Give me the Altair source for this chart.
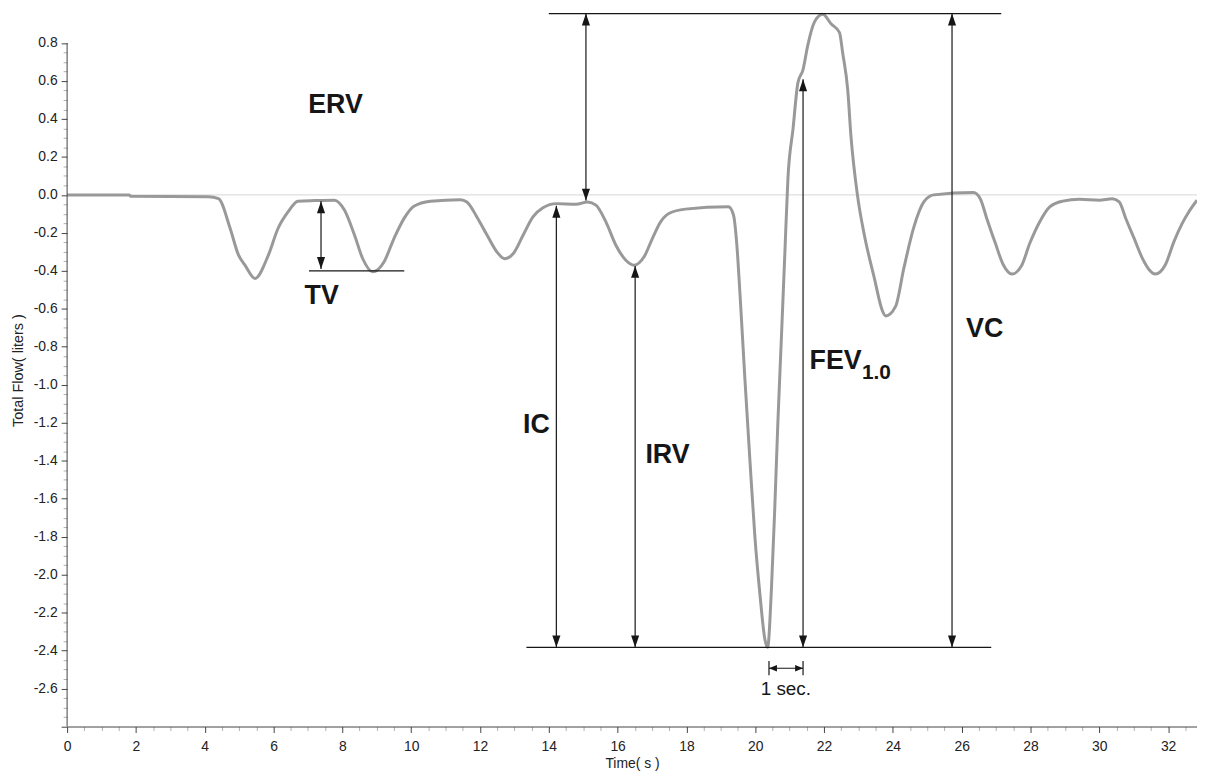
import altair as alt
import pandas as pd

# ---- spirogram trace ----
time_s = [0.0, 1.80, 1.85, 4.11, 4.40, 4.74, 4.98, 5.17, 5.46, 5.85, 6.13, 6.42, 6.71,
          7.20, 7.77, 8.06, 8.35, 8.59, 8.88, 9.21, 9.50, 9.79, 10.08, 10.56, 11.43,
          11.62, 11.91, 12.20, 12.49, 12.72, 12.97, 13.26, 13.54, 13.83, 14.22, 14.79,
          15.13, 15.37, 15.66, 15.95, 16.24, 16.48, 16.77, 17.01, 17.25, 17.49, 17.97,
          19.22, 19.37, 19.46, 19.56, 19.70, 19.85, 19.99, 20.14, 20.28, 20.36, 20.47,
          20.57, 20.66, 20.76, 20.86, 20.95, 21.10, 21.24, 21.39, 21.53, 21.72, 21.96,
          22.21, 22.45, 22.54, 22.69, 22.78, 22.97, 23.17, 23.46, 23.70, 23.79, 24.08,
          24.32, 24.61, 24.90, 25.19, 26.34, 26.54, 26.73, 26.97, 27.21, 27.46, 27.74,
          27.98, 28.27, 28.56, 28.94, 29.42, 30.00, 30.38, 30.58, 30.77, 31.01, 31.25,
          31.45, 31.63, 31.92, 32.17, 32.41, 32.60, 32.84]
flow_l = [0.0, 0.0, -0.007, -0.01, -0.02, -0.177, -0.316, -0.37, -0.44, -0.317, -0.177, -0.09, -0.033,
          -0.03, -0.028, -0.08, -0.21, -0.335, -0.405, -0.353, -0.23, -0.125, -0.06, -0.033, -0.025,
          -0.037, -0.116, -0.21, -0.30, -0.336, -0.309, -0.21, -0.116, -0.068, -0.046, -0.049,
          -0.037, -0.054, -0.142, -0.265, -0.344, -0.37, -0.326, -0.23, -0.142, -0.098, -0.075,
          -0.063, -0.107, -0.25, -0.53, -0.97, -1.41, -1.80, -2.11, -2.34, -2.383, -2.08,
          -1.64, -1.19, -0.755, -0.313, 0.084, 0.35, 0.59, 0.66, 0.79, 0.91, 0.951,
          0.90, 0.855, 0.75, 0.55, 0.315, 0.0, -0.21, -0.437, -0.612, -0.638, -0.587,
          -0.386, -0.17, -0.037, 0.0, 0.012, -0.02, -0.124, -0.25, -0.368, -0.417, -0.373,
          -0.255, -0.141, -0.063, -0.033, -0.023, -0.028, -0.02, -0.037, -0.124, -0.228, -0.333,
          -0.394, -0.417, -0.368, -0.246, -0.15, -0.09, -0.028]

# ---- annotation geometry (data units) ----
hline_x1 = [14.00, 7.03, 13.35]
hline_x2 = [27.15, 9.80, 26.86]
hline_y = [0.955, -0.40, -2.383]

varrow_x = [7.38, 15.08, 14.22, 16.51, 21.39, 25.72]
varrow_top = [-0.034, 0.955, -0.057, -0.374, 0.609, 0.955]
varrow_bottom = [-0.39, -0.03, -2.383, -2.383, -2.383, -2.383]

sec_x1, sec_x2, sec_y = 20.40, 21.39, -2.493
sec_bar_y1, sec_bar_y2 = -2.455, -2.53

label_text = ["TV", "ERV", "IC", "IRV", "VC"]
label_x = [7.40, 7.80, 13.64, 17.45, 26.67]
label_y = [-0.531, 0.475, -1.212, -1.368, -0.704]

fev_text, fev_x, fev_y = "FEV", 21.58, -0.874
sub_text, sub_x, sub_y = "1.0", 23.10, -0.936
sec_text, sec_tx, sec_ty = "1 sec.", 20.89, -2.605

x_domain = [0, 32.84]
y_domain = [-2.8, 0.955]
x_ticks = [i * 0.5 for i in range(0, 66)]
y_ticks = [round(-2.8 + 0.05 * i, 2) for i in range(0, 73)]

FONT = "Liberation Sans"
INK = "#161616"

xs = alt.Scale(domain=x_domain, nice=False, zero=False)
ys = alt.Scale(domain=y_domain, nice=False, zero=False)

curve_df = pd.DataFrame({"t": time_s, "v": flow_l})

maj_x = "abs(datum.value % 2) < 0.01"
x_axis = alt.Axis(
    values=x_ticks, title="Time( s )", domainColor="#444444", domainWidth=1,
    tickColor={"condition": {"test": maj_x, "value": "#444444"}, "value": "#b0b0b0"},
    tickSize={"condition": {"test": maj_x, "value": 6}, "value": 4},
    labelExpr=maj_x + " ? format(datum.value, 'd') : ''",
    labelFont=FONT, labelFontSize=14, labelColor="#222222", labelPadding=7,
    titleFont=FONT, titleFontSize=14, titleFontWeight="normal", titleColor="#222222",
    titlePadding=3, grid=False, labelFlush=False, labelOverlap=False,
)
maj_y = "abs(datum.value / 0.2 - round(datum.value / 0.2)) < 0.01"
y_axis = alt.Axis(
    values=y_ticks, title="Total Flow( liters )", domain=False,
    tickColor={"condition": {"test": maj_y, "value": "#444444"}, "value": "#b0b0b0"},
    tickSize={"condition": {"test": maj_y, "value": 6}, "value": 4},
    labelExpr="(" + maj_y + " && datum.value > -2.75) ? replace(format(datum.value, '.1f'), '\u2212', '-') : ''",
    labelFont=FONT, labelFontSize=14, labelColor="#222222", labelPadding=4,
    titleFont=FONT, titleFontSize=14.5, titleFontWeight="normal", titleColor="#222222",
    titlePadding=8, grid=False, labelOverlap=False,
)


def X(f):
    return alt.X(f, type="quantitative", scale=xs, axis=x_axis)


def Y(f):
    return alt.Y(f, type="quantitative", scale=ys, axis=y_axis)


curve = alt.Chart(curve_df).mark_line(
    color="#999999", strokeWidth=3, interpolate="monotone"
).encode(x=X("t"), y=Y("v"))

zero_df = pd.DataFrame({"v": [0.0]})
zero_line = alt.Chart(zero_df).mark_rule(color="#d6d6d6", strokeWidth=1).encode(y=Y("v"))

yaxis_df = pd.DataFrame({"t": [0.0], "v1": [-2.8], "v2": [0.8]})
yaxis_line = alt.Chart(yaxis_df).mark_rule(color="#444444", strokeWidth=1).encode(
    x=X("t"), y=Y("v1"), y2="v2")

h_df = pd.DataFrame({"x1": hline_x1, "x2": hline_x2, "y": hline_y})
hlines = alt.Chart(h_df).mark_rule(color=INK, strokeWidth=1.2).encode(
    x=X("x1"), x2="x2", y=Y("y"))

v_df = pd.DataFrame({"x": varrow_x, "top": varrow_top, "bottom": varrow_bottom})
vlines = alt.Chart(v_df).mark_rule(color=INK, strokeWidth=1.2).encode(
    x=X("x"), y=Y("top"), y2="bottom")
up_heads = alt.Chart(v_df).mark_point(
    shape="M0,0L-0.34,1L0.34,1Z", filled=True, size=576, color=INK, opacity=1, strokeWidth=0
).encode(x=X("x"), y=Y("top"))
down_heads = alt.Chart(v_df).mark_point(
    shape="M0,0L-0.34,-1L0.34,-1Z", filled=True, size=576, color=INK, opacity=1, strokeWidth=0
).encode(x=X("x"), y=Y("bottom"))

s_df = pd.DataFrame({"x1": [sec_x1], "x2": [sec_x2], "y": [sec_y],
                     "b1": [sec_bar_y1], "b2": [sec_bar_y2]})
sec_line = alt.Chart(s_df).mark_rule(color=INK, strokeWidth=1.2).encode(
    x=X("x1"), x2="x2", y=Y("y"))
sec_bar1 = alt.Chart(s_df).mark_rule(color=INK, strokeWidth=1.2).encode(
    x=X("x1"), y=Y("b1"), y2="b2")
sec_bar2 = alt.Chart(s_df).mark_rule(color=INK, strokeWidth=1.2).encode(
    x=X("x2"), y=Y("b1"), y2="b2")
sec_left = alt.Chart(s_df).mark_point(
    shape="M0,0L1,-0.42L1,0.42Z", filled=True, size=256, color=INK, opacity=1, strokeWidth=0
).encode(x=X("x1"), y=Y("y"))
sec_right = alt.Chart(s_df).mark_point(
    shape="M0,0L-1,-0.42L-1,0.42Z", filled=True, size=256, color=INK, opacity=1, strokeWidth=0
).encode(x=X("x2"), y=Y("y"))

lab_df = pd.DataFrame({"text": label_text, "x": label_x, "y": label_y})
labels = alt.Chart(lab_df).mark_text(
    font=FONT, fontSize=27, fontWeight="bold", color=INK, align="center", baseline="middle"
).encode(x=X("x"), y=Y("y"), text="text:N")

fev_df = pd.DataFrame({"text": [fev_text], "x": [fev_x], "y": [fev_y]})
fev = alt.Chart(fev_df).mark_text(
    font=FONT, fontSize=27, fontWeight="bold", color=INK, align="left", baseline="middle"
).encode(x=X("x"), y=Y("y"), text="text:N")
sub_df = pd.DataFrame({"text": [sub_text], "x": [sub_x], "y": [sub_y]})
sub = alt.Chart(sub_df).mark_text(
    font=FONT, fontSize=21, fontWeight="bold", color=INK, align="left", baseline="middle"
).encode(x=X("x"), y=Y("y"), text="text:N")
sec_df = pd.DataFrame({"text": [sec_text], "x": [sec_tx], "y": [sec_ty]})
sec = alt.Chart(sec_df).mark_text(
    font=FONT, fontSize=19, color=INK, align="center", baseline="middle"
).encode(x=X("x"), y=Y("y"), text="text:N")

chart = alt.layer(
    zero_line, curve, yaxis_line, hlines, vlines, up_heads, down_heads,
    sec_line, sec_bar1, sec_bar2, sec_left, sec_right, labels, fev, sub, sec,
).properties(
    width=1137.6, height=717.8,
    autosize=alt.AutoSizeParams(type="none"),
    padding={"left": 59.5, "top": 3, "right": 0, "bottom": 46},
    background="white",
).configure_view(stroke=None)

chart.save("out.html", embed_options={"renderer": "svg", "actions": False})
